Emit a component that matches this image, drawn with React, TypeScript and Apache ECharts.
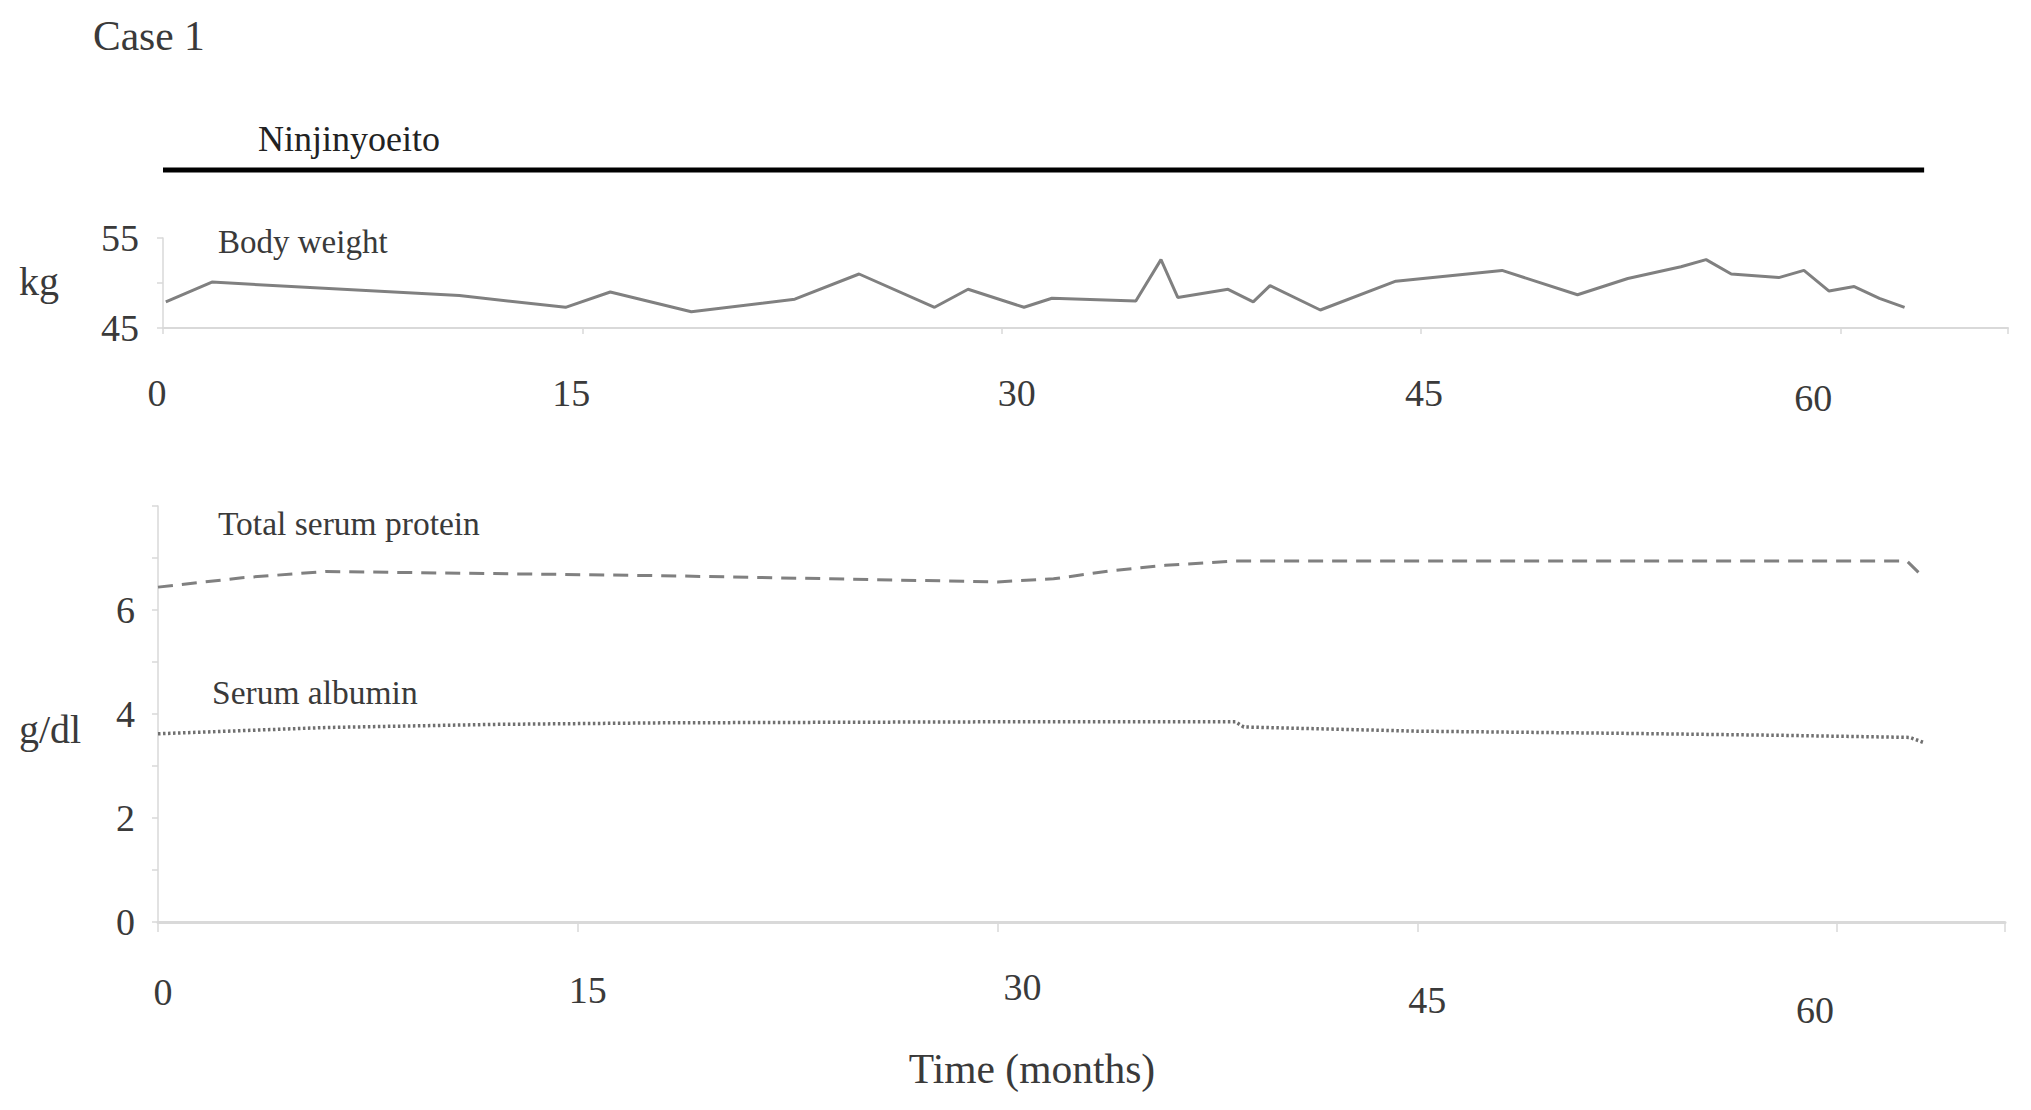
import React, { useEffect, useRef } from "react";
import * as echarts from "echarts";

// ---- Data ----
const xTicks = [0, 15, 30, 45, 60];
const treatmentMonths = [0, 63];
const treatmentLevel = [1, 1];

const weightMonths = [0.1, 1.75, 10.6, 14.4, 16.0, 18.9, 22.6, 24.9, 27.6, 28.8, 30.8, 31.8, 34.8, 35.7, 36.3, 38.1, 39.0, 39.6, 41.4, 44.1, 47.9, 50.6, 52.4, 54.3, 55.2, 56.1, 57.8, 58.7, 59.6, 60.5, 61.4, 62.3];
const weightKg = [47.9, 50.1, 48.6, 47.3, 49.0, 46.8, 48.2, 51.0, 47.3, 49.3, 47.3, 48.3, 48.0, 52.6, 48.4, 49.3, 47.9, 49.7, 47.0, 50.2, 51.4, 48.7, 50.5, 51.8, 52.6, 51.0, 50.6, 51.4, 49.1, 49.6, 48.3, 47.3];

const proteinMonths = [0, 3, 6, 12, 18, 24, 30, 32, 34, 36, 38.5, 62.5, 63.1];
const proteinGdl = [6.44, 6.62, 6.74, 6.70, 6.66, 6.60, 6.54, 6.60, 6.75, 6.86, 6.94, 6.94, 6.62];

const albuminMonths = [0, 6, 12, 18, 30, 38.5, 38.8, 45, 52, 58, 62.6, 63.1];
const albuminGdl = [3.62, 3.74, 3.80, 3.83, 3.85, 3.85, 3.75, 3.67, 3.63, 3.59, 3.55, 3.45];

const FONT = '"Liberation Serif", "Times New Roman", serif';
const TXT = "#3a3a3a";
const AXIS = "#d9d9d9";
const SERIES = "#808080";

const zip = (a: number[], b: number[]) => a.map((v, i) => [v, b[i]]);

// per-label shifts [dx, dy] to mimic the reference's irregular label placement
const topShift: Record<number, [number, number]> = { 0: [-6, 0], 15: [-11, 0], 30: [15, 0], 45: [3, 0], 60: [-27, 5] };
const botShift: Record<number, [number, number]> = { 0: [5, 5], 15: [10, 3], 30: [25, 0], 45: [10, 13], 60: [-22, 23] };

function richFor(shift: Record<number, [number, number]>) {
  const rich: any = {};
  xTicks.forEach((t) => {
    const [dx, dy] = shift[t];
    rich["t" + t] = {
      fontSize: 38,
      fontFamily: FONT,
      color: TXT,
      padding: [dy, dx < 0 ? -2 * dx : 0, 0, dx > 0 ? 2 * dx : 0],
    };
  });
  return rich;
}

function xLabelFmt(v: number) {
  return xTicks.indexOf(v) >= 0 ? `{t${v}|${v}}` : "";
}

export default function App() {
  const ref = useRef<HTMLDivElement>(null);
  useEffect(() => {
    if (!ref.current) return;
    const chart = echarts.init(ref.current, null, { renderer: "svg" });
    const grids = [
      { left: 163, width: 1845, top: 160, height: 20 },
      { left: 163, width: 1845, top: 238, height: 90 },
      { left: 158, width: 1847, top: 506, height: 416 },
    ];
    const option: any = {
      animation: false,
      backgroundColor: "#ffffff",
      grid: grids,
      xAxis: [
        { gridIndex: 0, type: "value", min: 0, max: 66, show: false },
        {
          gridIndex: 1, type: "value", min: 0, max: 66, interval: 15,
          axisLine: { show: true, lineStyle: { color: AXIS, width: 2 } },
          axisTick: { show: true, length: 6, lineStyle: { color: AXIS, width: 1.5 } },
          splitLine: { show: false },
          axisLabel: { margin: 46, formatter: xLabelFmt, rich: richFor(topShift) },
        },
        {
          gridIndex: 2, type: "value", min: 0, max: 66, interval: 15,
          axisLine: { show: true, lineStyle: { color: AXIS, width: 3 } },
          axisTick: { show: true, length: 10, lineStyle: { color: AXIS, width: 1.5 } },
          splitLine: { show: false },
          axisLabel: { margin: 46, formatter: xLabelFmt, rich: richFor(botShift) },
        },
      ],
      yAxis: [
        { gridIndex: 0, type: "value", min: 0, max: 2, show: false },
        {
          gridIndex: 1, type: "value", min: 45, max: 55, interval: 5,
          axisLine: { show: true, lineStyle: { color: AXIS, width: 1.5 } },
          axisTick: { show: true, length: 6, lineStyle: { color: AXIS, width: 1.5 } },
          splitLine: { show: false },
          axisLabel: {
            margin: 24, fontSize: 38, fontFamily: FONT, color: TXT,
            formatter: (v: number) => (v === 45 || v === 55 ? String(v) : ""),
          },
        },
        {
          gridIndex: 2, type: "value", min: 0, max: 8, interval: 1,
          axisLine: { show: true, lineStyle: { color: AXIS, width: 1.5 } },
          axisTick: { show: true, length: 6, lineStyle: { color: AXIS, width: 1.5 } },
          splitLine: { show: false },
          axisLabel: {
            margin: 23, fontSize: 38, fontFamily: FONT, color: TXT,
            formatter: (v: number) => (v % 2 === 0 && v < 8 ? String(v) : ""),
          },
        },
      ],
      series: [
        {
          name: "Ninjinyoeito", type: "line", xAxisIndex: 0, yAxisIndex: 0,
          data: zip(treatmentMonths, treatmentLevel), showSymbol: false, symbol: "none",
          lineStyle: { color: "#000000", width: 5 }, silent: true,
        },
        {
          name: "Body weight", type: "line", xAxisIndex: 1, yAxisIndex: 1,
          data: zip(weightMonths, weightKg), showSymbol: false, symbol: "none",
          lineStyle: { color: SERIES, width: 3 }, silent: true,
        },
        {
          name: "Total serum protein", type: "line", xAxisIndex: 2, yAxisIndex: 2,
          data: zip(proteinMonths, proteinGdl), showSymbol: false, symbol: "none",
          lineStyle: { color: SERIES, width: 3, type: [15, 9] }, silent: true,
        },
        {
          name: "Serum albumin", type: "line", xAxisIndex: 2, yAxisIndex: 2,
          data: zip(albuminMonths, albuminGdl), showSymbol: false, symbol: "none",
          lineStyle: { color: "#707070", width: 3.5, type: [2.5, 2.5] }, silent: true,
        },
      ],
      graphic: [
        { type: "text", x: 93, y: 36, style: { text: "Case 1", font: `41.5px ${FONT}`, fill: TXT, verticalAlign: "middle" } },
        { type: "text", x: 258, y: 139, style: { text: "Ninjinyoeito", font: `36px ${FONT}`, fill: "#222222", verticalAlign: "middle" } },
        { type: "text", x: 218, y: 242, style: { text: "Body weight", font: `33px ${FONT}`, fill: TXT, verticalAlign: "middle" } },
        { type: "text", x: 19, y: 281, style: { text: "kg", font: `40px ${FONT}`, fill: TXT, verticalAlign: "middle" } },
        { type: "text", x: 218, y: 523, style: { text: "Total serum protein", font: `33.5px ${FONT}`, fill: TXT, verticalAlign: "middle" } },
        { type: "text", x: 212, y: 692, style: { text: "Serum albumin", font: `33.5px ${FONT}`, fill: TXT, verticalAlign: "middle" } },
        { type: "text", x: 19, y: 729, style: { text: "g/dl", font: `40px ${FONT}`, fill: TXT, verticalAlign: "middle" } },
        { type: "text", x: 1032, y: 1069, style: { text: "Time (months)", font: `41.5px ${FONT}`, fill: TXT, align: "center", verticalAlign: "middle" } },
      ],
    };
    chart.setOption(option);
    return () => chart.dispose();
  }, []);
  return (
    <div
      ref={ref}
      style={{ position: "absolute", left: 0, top: 0, width: 2031, height: 1110, background: "#fff" }}
    />
  );
}
